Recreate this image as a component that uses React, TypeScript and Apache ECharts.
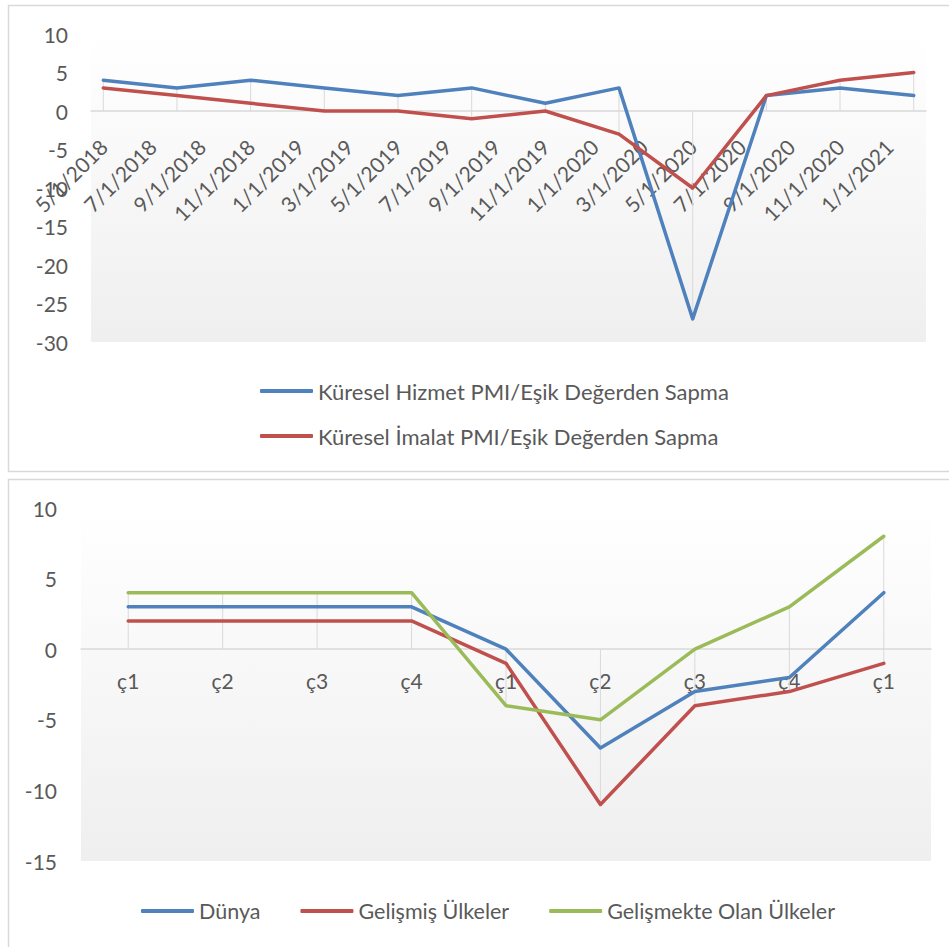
import React, { useEffect, useRef } from "react";
import * as echarts from "echarts";

// ---- Top chart data ----
const monthCategories = [
  "5/1/2018", "6/1/2018", "7/1/2018", "8/1/2018", "9/1/2018", "10/1/2018", "11/1/2018", "12/1/2018",
  "1/1/2019", "2/1/2019", "3/1/2019", "4/1/2019", "5/1/2019", "6/1/2019", "7/1/2019", "8/1/2019",
  "9/1/2019", "10/1/2019", "11/1/2019", "12/1/2019",
  "1/1/2020", "2/1/2020", "3/1/2020", "4/1/2020", "5/1/2020", "6/1/2020", "7/1/2020", "8/1/2020",
  "9/1/2020", "10/1/2020", "11/1/2020", "12/1/2020",
  "1/1/2021", "2/1/2021",
];
const pmiDates = [
  "5/1/2018", "8/1/2018", "11/1/2018", "2/1/2019", "5/1/2019", "8/1/2019",
  "11/1/2019", "2/1/2020", "5/1/2020", "8/1/2020", "11/1/2020", "2/1/2021",
];
const servicesPmi = [4, 3, 4, 3, 2, 3, 1, 3, -27, 2, 3, 2];
const manufacturingPmi = [3, 2, 1, 0, 0, -1, 0, -3, -10, 2, 4, 5];
const topSeriesNames = [
  "Küresel Hizmet PMI/Eşik Değerden Sapma",
  "Küresel İmalat PMI/Eşik Değerden Sapma",
];
const topYRange = { min: -30, max: 10, interval: 5 };

// ---- Bottom chart data ----
const quarters = ["ç1", "ç2", "ç3", "ç4", "ç1", "ç2", "ç3", "ç4", "ç1"];
const world = [3, 3, 3, 3, 0, -7, -3, -2, 4];
const advanced = [2, 2, 2, 2, -1, -11, -4, -3, -1];
const emerging = [4, 4, 4, 4, -4, -5, 0, 3, 8];
const bottomSeriesNames = ["Dünya", "Gelişmiş Ülkeler", "Gelişmekte Olan Ülkeler"];
const bottomYRange = { min: -15, max: 10, interval: 5 };

const BLUE = "#4f81bd";
const RED = "#c0504d";
const GREEN = "#9bbb59";
const TEXT = "#595959";
const FONT = "Lato, 'Open Sans', sans-serif";
const LINE_W = 3.5;

const TOP_GRID = { left: 91, top: 34, width: 835, height: 308 };
const BOTTOM_GRID = { left: 81, top: 508, width: 850, height: 353 };

// offset that moves a bottom category axis up to the y=0 line of its grid
const zeroOffset = (height: number, r: { min: number; max: number }) =>
  -(height * (0 - r.min)) / (r.max - r.min);

const bgGradient = () =>
  new echarts.graphic.LinearGradient(0, 0, 0, 1, [
    { offset: 0, color: "#ffffff" },
    { offset: 1, color: "#efefef" },
  ]);

const dropLineRender = (params: any, api: any) => {
  const x = api.value(0);
  const p1 = api.coord([x, api.value(1)]);
  const p2 = api.coord([x, api.value(2)]);
  return {
    type: "line",
    shape: { x1: p1[0], y1: p1[1], x2: p2[0], y2: p2[1] },
    style: { stroke: "#d9d9d9", lineWidth: 1 },
  };
};

export default function App() {
  const ref = useRef<HTMLDivElement>(null);

  useEffect(() => {
    if (!ref.current) return;
    const chart = echarts.init(ref.current, undefined, { renderer: "svg" });

    const topIdx = pmiDates.map((d) => monthCategories.indexOf(d));
    const topDrop = topIdx.map((ix, i) => [
      ix,
      Math.max(servicesPmi[i], manufacturingPmi[i], 0),
      Math.min(servicesPmi[i], manufacturingPmi[i], 0),
    ]);
    const bottomDrop = quarters.map((_, i) => [
      i,
      Math.max(world[i], advanced[i], emerging[i], 0),
      Math.min(world[i], advanced[i], emerging[i], 0),
    ]);

    const lineSeries = (name: string, data: any[], color: string, gi: number) => ({
      name,
      type: "line",
      xAxisIndex: gi,
      yAxisIndex: gi,
      data,
      symbol: "none",
      color,
      lineStyle: { color, width: LINE_W, join: "round", cap: "round" },
      z: 3,
    });

    const option: any = {
      animation: false,
      backgroundColor: "#ffffff",
      textStyle: { fontFamily: FONT },
      graphic: [
        {
          type: "rect",
          shape: { x: 8.5, y: 5.5, width: 960, height: 466 },
          style: { fill: "none", stroke: "#d9d9d9", lineWidth: 1.5 },
          silent: true,
        },
        {
          type: "rect",
          shape: { x: 8.5, y: 479.5, width: 960, height: 500 },
          style: { fill: "none", stroke: "#d9d9d9", lineWidth: 1.5 },
          silent: true,
        },
      ],
      grid: [
        { ...TOP_GRID, show: true, backgroundColor: bgGradient(), borderWidth: 0 },
        { ...BOTTOM_GRID, show: true, backgroundColor: bgGradient(), borderWidth: 0 },
      ],
      legend: [
        {
          orient: "vertical",
          left: 255,
          top: 374,
          icon: "roundRect",
          itemWidth: 53,
          itemHeight: 4,
          itemGap: 21,
          data: topSeriesNames,
          selectedMode: false,
          textStyle: { color: TEXT, fontSize: 22, fontFamily: FONT, lineHeight: 24 },
        },
        {
          orient: "horizontal",
          left: 136,
          top: 894,
          icon: "roundRect",
          itemWidth: 53,
          itemHeight: 4,
          itemGap: 40,
          data: bottomSeriesNames,
          selectedMode: false,
          textStyle: { color: TEXT, fontSize: 21.5, fontFamily: FONT, lineHeight: 24 },
        },
      ],
      xAxis: [
        {
          type: "category",
          gridIndex: 0,
          data: monthCategories,
          boundaryGap: true,
          offset: zeroOffset(TOP_GRID.height, topYRange),
          axisLine: { onZero: false, lineStyle: { color: "#d9d9d9", width: 1.5 } },
          axisTick: { show: false },
          splitLine: { show: false },
          axisLabel: {
            interval: 1,
            rotate: 45,
            margin: 32,
            color: TEXT,
            fontSize: 21,
            fontFamily: FONT,
          },
          z: 0,
        },
        {
          type: "category",
          gridIndex: 1,
          data: quarters,
          boundaryGap: true,
          offset: zeroOffset(BOTTOM_GRID.height, bottomYRange),
          axisLine: { onZero: false, lineStyle: { color: "#d9d9d9", width: 1.5 } },
          axisTick: { show: false },
          splitLine: { show: false },
          axisLabel: { interval: 0, margin: 21, color: TEXT, fontSize: 21, fontFamily: FONT },
          z: 0,
        },
      ],
      yAxis: [
        {
          type: "value",
          gridIndex: 0,
          ...topYRange,
          axisLine: { show: false },
          axisTick: { show: false },
          splitLine: { show: false },
          axisLabel: { margin: 23, color: TEXT, fontSize: 21, fontFamily: FONT },
        },
        {
          type: "value",
          gridIndex: 1,
          ...bottomYRange,
          axisLine: { show: false },
          axisTick: { show: false },
          splitLine: { show: false },
          axisLabel: { margin: 24, color: TEXT, fontSize: 21, fontFamily: FONT },
        },
      ],
      series: [
        {
          type: "custom",
          xAxisIndex: 0,
          yAxisIndex: 0,
          renderItem: dropLineRender,
          data: topDrop,
          encode: { x: 0, y: [1, 2] },
          silent: true,
          z: 1,
        },
        {
          type: "custom",
          xAxisIndex: 1,
          yAxisIndex: 1,
          renderItem: dropLineRender,
          data: bottomDrop,
          encode: { x: 0, y: [1, 2] },
          silent: true,
          z: 1,
        },
        lineSeries(topSeriesNames[0], topIdx.map((ix, i) => [ix, servicesPmi[i]]), BLUE, 0),
        lineSeries(topSeriesNames[1], topIdx.map((ix, i) => [ix, manufacturingPmi[i]]), RED, 0),
        lineSeries(bottomSeriesNames[0], world, BLUE, 1),
        lineSeries(bottomSeriesNames[1], advanced, RED, 1),
        lineSeries(bottomSeriesNames[2], emerging, GREEN, 1),
      ],
    };

    chart.setOption(option);
    return () => chart.dispose();
  }, []);

  return (
    <div
      ref={ref}
      style={{ position: "absolute", left: 0, top: 0, width: 949, height: 947 }}
    />
  );
}
